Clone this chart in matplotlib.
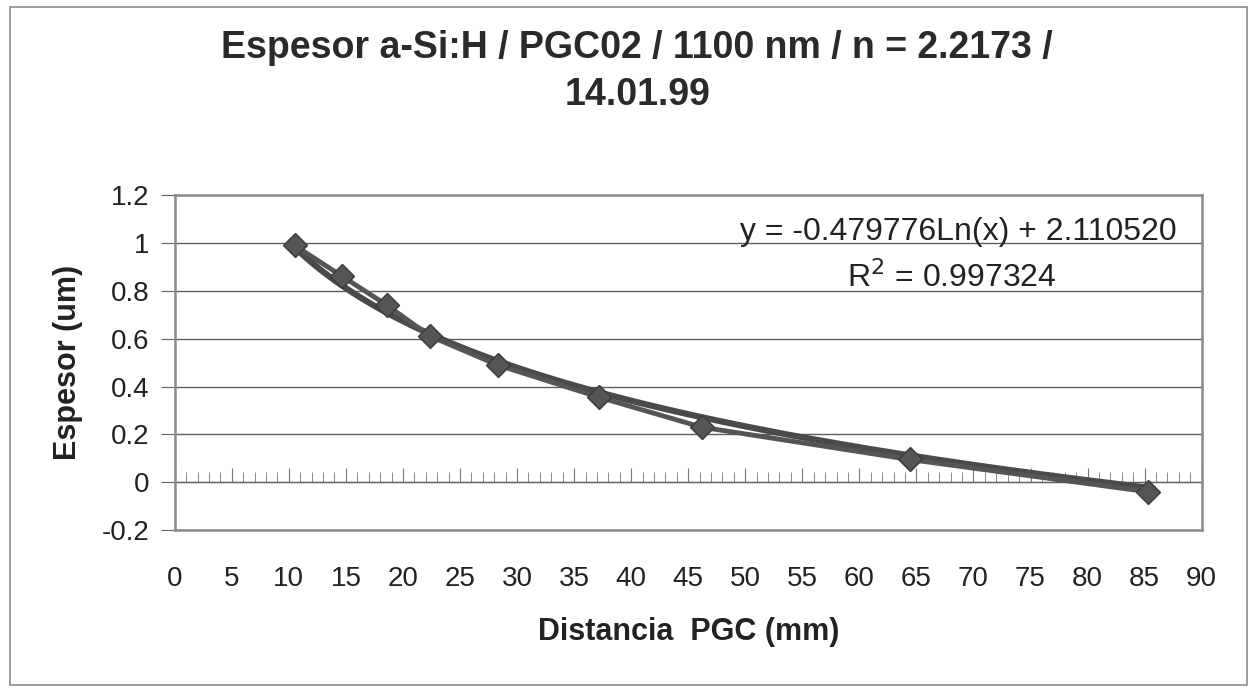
import numpy as np
import matplotlib.pyplot as plt
from matplotlib.patches import Rectangle

plt.rcParams['font.family'] = ['Liberation Sans', 'DejaVu Sans']

distancia = [10.5, 14.7, 18.6, 22.4, 28.3, 37.2, 46.2, 64.4, 85.3]
espesor = [0.99, 0.86, 0.74, 0.61, 0.49, 0.355, 0.23, 0.095, -0.04]

# log trendline shown on the chart
coef_a = -0.479776
coef_b = 2.110520
r2 = 0.997324

fig = plt.figure(figsize=(12.57, 6.92), dpi=100)
ax = fig.add_axes([0.139, 0.234, 0.817, 0.484])

# outer chart frame
fig.patches.append(Rectangle((0.008, 0.01), 0.984, 0.98, transform=fig.transFigure,
                             fill=False, edgecolor='#8c8c8c', linewidth=1.2))

gris = '#555555'
ax.plot(distancia, espesor, color=gris, linewidth=3.5, marker='D', markersize=12,
        markerfacecolor=gris, markeredgecolor='#3a3a3a', zorder=3)
xt = np.linspace(min(distancia), max(distancia), 200)
ax.plot(xt, coef_a * np.log(xt) + coef_b, color='#4a4a4a', linewidth=4.5, zorder=2)

ax.set_xlim(0, 90)
ax.set_ylim(-0.2, 1.2)
ax.set_xticks(np.arange(0, 91, 5))
ax.set_yticks(np.arange(-0.2, 1.21, 0.2))
ax.set_yticklabels(['-0.2', '0', '0.2', '0.4', '0.6', '0.8', '1', '1.2'])
ax.tick_params(axis='x', length=0, pad=26, labelsize=20, labelcolor='#222222')
ax.tick_params(axis='y', length=10, direction='out', labelsize=20, color='#666666',
               labelcolor='#222222', pad=8)
ax.grid(axis='y', color='#5e5e5e', linewidth=1)
ax.set_axisbelow(True)
for s in ax.spines.values():
    s.set_color('#8a8a8a')
    s.set_linewidth(1.8)

# x axis crossing at y = 0 with Excel style tick marks
sec = ax.secondary_xaxis(0, transform=ax.transData)
sec.set_xticks(np.arange(0, 91, 5))
sec.set_xticks(np.arange(0, 91, 1), minor=True)
sec.tick_params(which='major', direction='in', length=10, labelbottom=False, color='#777777')
sec.tick_params(which='minor', direction='in', length=7, color='#777777')
sec.spines['bottom'].set_color('#777777')

ax.set_xlabel('Distancia  PGC (mm)', fontsize=22, fontweight='bold', labelpad=18,
              color='#222222')
ax.set_ylabel('Espesor (um)', fontsize=22, fontweight='bold', labelpad=14,
              color='#222222')

fig.text(0.507, 0.897, 'Espesor a-Si:H / PGC02 / 1100 nm / n = 2.2173 /\n14.01.99',
         ha='center', va='center', fontsize=27, fontweight='bold', linespacing=1.4,
         color='#2a2a2a')

ax.text(0.976, 0.89, f'y = {coef_a:.6f}Ln(x) + {coef_b:.6f}', transform=ax.transAxes,
        ha='right', va='center', fontsize=23, color='#222222')
ax.text(0.757, 0.755, f'R$^2$ = {r2:.6f}', transform=ax.transAxes,
        ha='center', va='center', fontsize=23, color='#222222')

fig.savefig('out.png', dpi=100)
